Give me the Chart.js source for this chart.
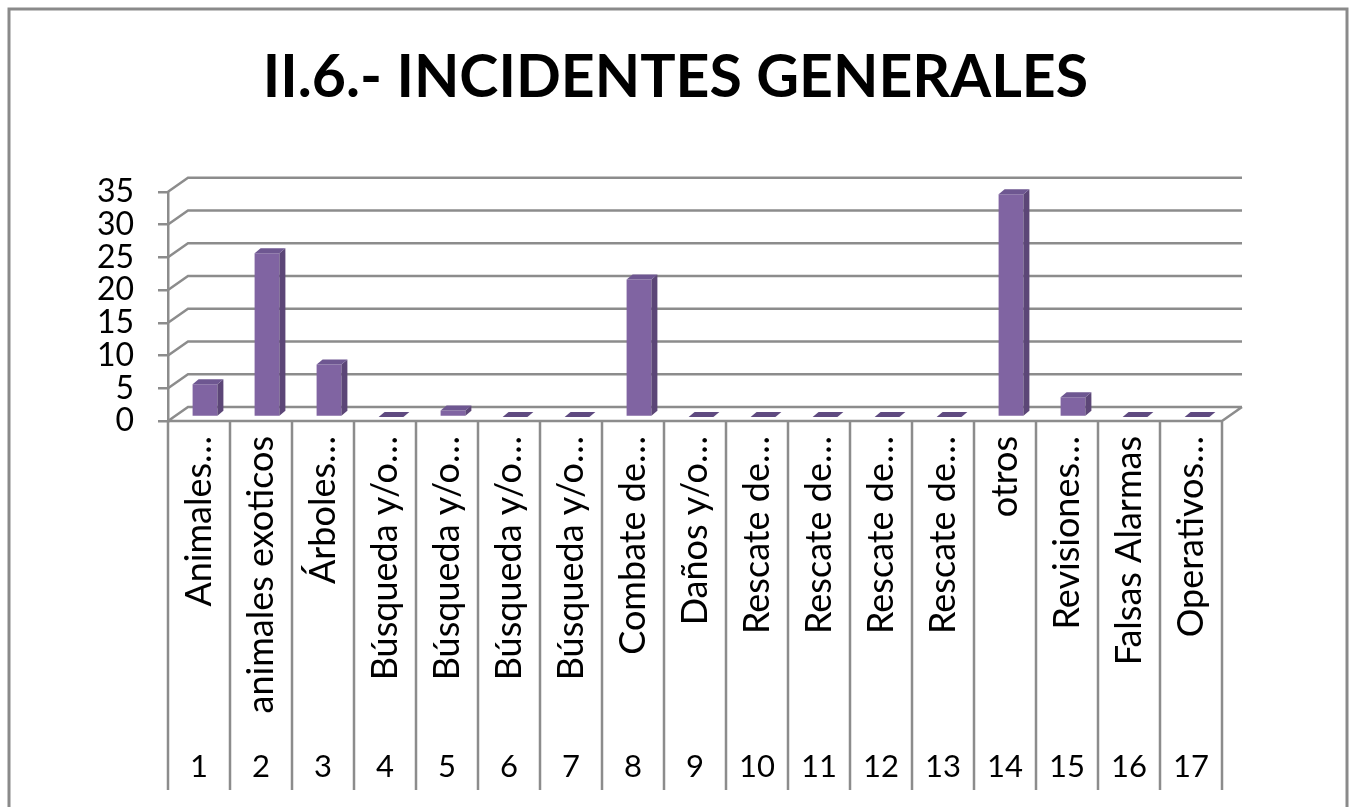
<!DOCTYPE html>
<html>
<head>
<meta charset="utf-8">
<script src="https://cdn.jsdelivr.net/npm/chart.js@4.4.1/dist/chart.umd.min.js"></script>
<style>
  body { margin: 0; background: #fff; }
  canvas { display: block; }
</style>
</head>
<body>
<canvas id="graph" width="1351" height="807"></canvas>
<script>
// data
var categories = ['Animales…', 'animales exoticos', 'Árboles…', 'Búsqueda y/o…', 'Búsqueda y/o…',
  'Búsqueda y/o…', 'Búsqueda y/o…', 'Combate de…', 'Daños y/o…', 'Rescate de…', 'Rescate de…',
  'Rescate de…', 'Rescate de…', 'otros', 'Revisiones…', 'Falsas Alarmas', 'Operativos…'];
var numbers = ['1', '2', '3', '4', '5', '6', '7', '8', '9', '10', '11', '12', '13', '14', '15', '16', '17'];
var incidents = [5, 25, 8, 0, 1, 0, 0, 21, 0, 0, 0, 0, 0, 34, 3, 0, 0];

var gray = '#8c8c8c';
var wall = { x: 20, y: -14 };   // back wall offset (fake 3d)
var shift = { x: 6, y: -4 };    // bars stand inside the floor
var depth = { x: 6, y: -5 };    // bar depth

Chart.defaults.font.family = 'Lato';
Chart.defaults.color = '#000';

var fake3d = {
  id: 'fake3d',
  beforeDraw: function(chart) {
    var ctx = chart.ctx;
    ctx.save();
    ctx.strokeStyle = '#8a8a8a';
    ctx.lineWidth = 3;
    ctx.strokeRect(9, 9, 1338, 830);
    ctx.restore();
  },
  beforeDatasetsDraw: function(chart) {
    var ctx = chart.ctx, a = chart.chartArea, ys = chart.scales.y;
    ctx.save();
    ctx.strokeStyle = gray;
    ctx.lineWidth = 2.5;
    ctx.beginPath();
    ys.ticks.forEach(function(t) {
      var y = ys.getPixelForValue(t.value);
      ctx.moveTo(a.left, y);
      ctx.lineTo(a.left + wall.x, y + wall.y);
      ctx.lineTo(a.right + wall.x, y + wall.y);
    });
    ctx.moveTo(a.left, a.bottom);
    ctx.lineTo(a.right, a.bottom);
    ctx.lineTo(a.right + wall.x, a.bottom + wall.y);
    // table lines under the floor
    var slot = (a.right - a.left) / categories.length;
    var bottom = chart.scales.x2.bottom;
    for (var i = 0; i <= categories.length; i++) {
      var x = a.left + i * slot;
      ctx.moveTo(x, a.bottom);
      ctx.lineTo(x, bottom);
    }
    ctx.stroke();
    ctx.restore();
    ctx.save();
    ctx.translate(shift.x, shift.y);
  },
  afterDatasetsDraw: function(chart) {
    var ctx = chart.ctx;
    chart.getDatasetMeta(0).data.forEach(function(bar) {
      var p = bar.getProps(['x', 'y', 'base', 'width'], true);
      var l = p.x - p.width / 2, r = p.x + p.width / 2;
      // side face
      ctx.fillStyle = '#5c4677';
      ctx.beginPath();
      ctx.moveTo(r, p.y);
      ctx.lineTo(r + depth.x, p.y + depth.y);
      ctx.lineTo(r + depth.x, p.base + depth.y);
      ctx.lineTo(r, p.base);
      ctx.closePath();
      ctx.fill();
      // top face
      ctx.fillStyle = p.y >= p.base - 0.5 ? '#5f4a80' : '#6e5791';
      ctx.beginPath();
      ctx.moveTo(l, p.y);
      ctx.lineTo(l + depth.x, p.y + depth.y);
      ctx.lineTo(r + depth.x, p.y + depth.y);
      ctx.lineTo(r, p.y);
      ctx.closePath();
      ctx.fill();
    });
    ctx.restore();
  }
};

var graph = new Chart(document.getElementById('graph').getContext('2d'), {
  type: 'bar',
  data: {
    labels: categories,
    datasets: [{
      label: 'Incidentes',
      data: incidents,
      backgroundColor: '#8064a2',
      categoryPercentage: 1,
      barPercentage: 0.4
    }]
  },
  options: {
    responsive: false,
    animation: false,
    layout: { padding: { top: 0, left: 0, right: 0, bottom: 17 } },
    plugins: {
      legend: { display: false },
      tooltip: { enabled: false },
      title: {
        display: true,
        text: 'II.6.- INCIDENTES GENERALES',
        font: { size: 59, weight: 'bold', lineHeight: 1.2 },
        color: '#000',
        padding: { top: 43, bottom: 78 }
      }
    },
    scales: {
      y: {
        min: 0,
        max: 35,
        ticks: { stepSize: 5, autoSkip: false, padding: 24, font: { size: 32 } },
        grid: { drawOnChartArea: false, tickLength: 10, color: gray, lineWidth: 2.5 },
        border: { color: gray, width: 2.5 },
        afterFit: function(s) { s.width = 168; }
      },
      // empty right axis, only keeps room for the back wall
      yRight: {
        position: 'right',
        ticks: { display: false },
        grid: { display: false },
        border: { display: false },
        afterFit: function(s) { s.width = 129; }
      },
      x: {
        weight: 0,
        ticks: { autoSkip: false, minRotation: 90, maxRotation: 90, padding: 7, font: { size: 36 } },
        grid: { display: false },
        border: { display: false },
        afterFit: function(s) { s.height = 319; }
      },
      x2: {
        type: 'category',
        position: 'bottom',
        weight: 1,
        offset: true,
        labels: numbers,
        ticks: { autoSkip: false, maxRotation: 0, padding: 0, font: { size: 31 } },
        grid: { display: false },
        border: { display: false },
        afterFit: function(s) { s.height = 50; }
      }
    }
  },
  plugins: [fake3d]
});
</script>
</body>
</html>
